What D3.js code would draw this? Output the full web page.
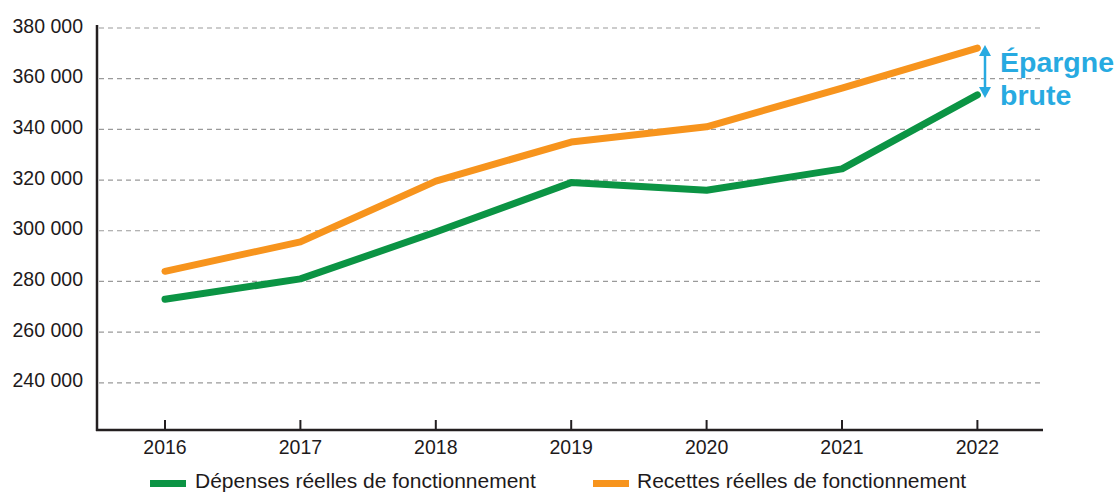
<!DOCTYPE html>
<html><head><meta charset="utf-8">
<script src="https://cdn.jsdelivr.net/npm/d3@7"></script>
<style>body{margin:0;background:#fff}svg{display:block;font-family:"Liberation Sans",Arial,sans-serif}</style>
</head><body><svg id="c" width="1117" height="493"></svg>
<script>
const years = [2016, 2017, 2018, 2019, 2020, 2021, 2022];
const depenses = [273000, 281000, 299500, 319000, 316000, 324400, 353600];
const recettes = [284000, 295600, 319600, 335000, 341000, 356300, 372100];
const yTicks = [240000, 260000, 280000, 300000, 320000, 340000, 360000, 380000];
const seriesNames = ["Dépenses réelles de fonctionnement", "Recettes réelles de fonctionnement"];
const colors = ["#0b9444", "#f7941d"];

const svg = d3.select("#c");
const x = d3.scalePoint().domain(years).range([165, 977.4]);
const y = d3.scaleLinear().domain([220000, 380000]).range([433.5, 28]);
const axisY = 430, left = 97, right = 1043;

// gridlines
svg.append("g").selectAll("line").data(yTicks).join("line")
  .attr("x1", left + 2).attr("x2", 1040)
  .attr("y1", d => y(d)).attr("y2", d => y(d))
  .attr("stroke", "#9a9a9a").attr("stroke-width", 1.2).attr("stroke-dasharray", "5,4");

// y labels
const fmt = d => d3.format(",")(d).replace(/,/g, " ");
svg.append("g").selectAll("text").data(yTicks).join("text")
  .attr("x", 83).attr("y", d => y(d) + 4.5).attr("text-anchor", "end")
  .attr("font-size", 19.5).attr("fill", "#1e1a1b").text(fmt);

// axes
svg.append("line").attr("x1", left).attr("x2", left).attr("y1", 25).attr("y2", axisY + 1)
  .attr("stroke", "#231f20").attr("stroke-width", 2.5);
svg.append("line").attr("x1", left - 1).attr("x2", right).attr("y1", axisY).attr("y2", axisY)
  .attr("stroke", "#231f20").attr("stroke-width", 2.5);
svg.append("g").selectAll("line").data(years).join("line")
  .attr("x1", d => x(d)).attr("x2", d => x(d)).attr("y1", axisY - 10).attr("y2", axisY)
  .attr("stroke", "#231f20").attr("stroke-width", 2);
svg.append("g").selectAll("text").data(years).join("text")
  .attr("x", d => x(d)).attr("y", 453.5).attr("text-anchor", "middle")
  .attr("font-size", 19.5).attr("fill", "#1e1a1b").text(d => d);

// lines
const line = d3.line().x((d, i) => x(years[i])).y(d => y(d));
[depenses, recettes].forEach((s, k) => {
  svg.append("path").attr("d", line(s)).attr("fill", "none")
    .attr("stroke", colors[k]).attr("stroke-width", 7)
    .attr("stroke-linecap", "round").attr("stroke-linejoin", "round");
});

// annotation
const blue = "#27aae1";
const ax = 985, ay1 = 45, ay2 = 98;
svg.append("line").attr("x1", ax).attr("x2", ax).attr("y1", ay1 + 6).attr("y2", ay2 - 6)
  .attr("stroke", blue).attr("stroke-width", 2.5);
svg.append("path").attr("d", `M${ax},${ay1} L${ax - 6},${ay1 + 11} L${ax + 6},${ay1 + 11} Z`).attr("fill", blue);
svg.append("path").attr("d", `M${ax},${ay2} L${ax - 6},${ay2 - 11} L${ax + 6},${ay2 - 11} Z`).attr("fill", blue);
svg.append("text").attr("x", 1000).attr("y", 72).attr("font-size", 28.5).attr("font-weight", "bold")
  .attr("fill", blue).text("Épargne");
svg.append("text").attr("x", 1000).attr("y", 105).attr("font-size", 28.5).attr("font-weight", "bold")
  .attr("fill", blue).text("brute");

// legend
const legX = [150, 593], txX = [195, 637];
seriesNames.forEach((n, k) => {
  svg.append("rect").attr("x", legX[k]).attr("y", 480).attr("width", 36).attr("height", 7).attr("fill", colors[k]);
  svg.append("text").attr("x", txX[k]).attr("y", 488.3).attr("font-size", 21).attr("fill", "#1e1a1b").text(n);
});
</script></body></html>
